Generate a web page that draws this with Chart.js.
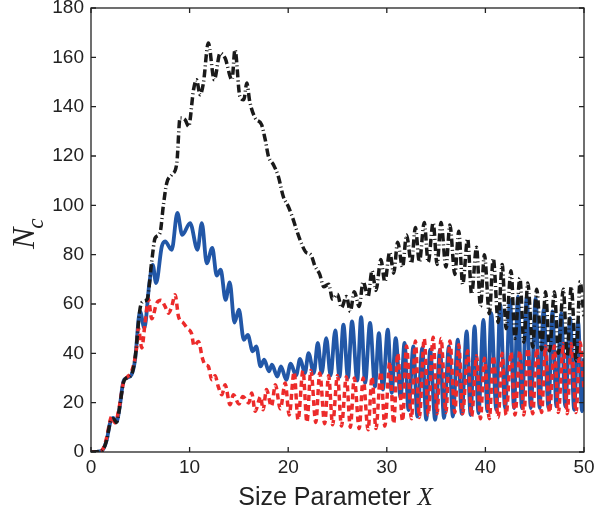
<!DOCTYPE html>
<html lang="en">
<head>
<meta charset="UTF-8">
<title>N_c vs Size Parameter</title>
<script src="https://cdn.jsdelivr.net/npm/chart.js"></script>
<style>
  html, body { margin: 0; padding: 0; background: #fff; }
  #wrap { width: 615px; height: 513px; }
</style>
</head>
<body>
<div id="wrap"><canvas id="ncChart" width="615" height="513"></canvas></div>
<script>
// axis ticks
const xTicks = [0, 10, 20, 30, 40, 50];
const yTicks = [0, 20, 40, 60, 80, 100, 120, 140, 160, 180];

// blue solid curve (peaks / troughs)
const blueX = [0, 0.8, 1.25, 1.6, 1.95, 2.27, 2.6, 2.9, 3.28, 3.6, 4.1, 4.47, 4.97, 5.41, 5.92, 6.26, 6.6, 7.18, 7.51, 8.19, 8.76, 9.25, 10.05, 10.8, 11.24, 11.74, 12.3, 12.75, 13.15, 13.65, 14.07, 14.55, 15.0, 15.5, 15.9, 16.4, 16.75, 17.2, 17.56, 18.05, 18.35, 18.9, 19.26, 19.8, 20.25, 20.8, 21.2, 21.7, 22.06, 22.6, 23.0, 23.4, 23.86, 24.3, 24.77, 25.2, 25.6, 26.06, 26.47, 27.0, 27.4, 27.8, 28.3, 28.8, 29.2, 29.6, 30.1, 30.5, 30.9, 31.4, 31.8, 32.2, 32.7, 33.1, 33.6, 34.0, 34.4, 34.9, 35.4, 35.8, 36.3, 36.7, 37.2, 37.6, 38.1, 38.5, 38.9, 39.3, 39.8, 40.2, 40.6, 41.1, 41.5, 42.0, 42.5, 42.9, 43.3, 43.7, 44.2, 44.6, 45.1, 45.5, 45.9, 46.4, 46.8, 47.2, 47.7, 48.1, 48.6, 49.0, 49.4, 49.8, 50];
const blueY = [0, 0.2, 1.2, 5, 12, 13.8, 12.4, 18, 28.6, 30, 31.3, 37.4, 57, 50.3, 68.5, 75.9, 68.5, 83.3, 85.4, 82, 96.9, 88, 92.8, 82, 92.8, 76.5, 82.7, 71.5, 73.9, 61.7, 68.8, 52.5, 57.7, 45.5, 47.5, 40.8, 42.8, 34.7, 37.4, 32.7, 35.4, 30.6, 34.7, 29.3, 35.8, 31, 37.7, 32, 40.1, 32, 44.2, 32, 46.2, 31, 49.3, 30.5, 51.6, 30, 52.9, 29, 54.7, 28, 52.3, 26.5, 48.2, 25.3, 49.6, 24, 46.2, 22, 44.2, 17, 42.8, 14.4, 42.2, 13.1, 41.5, 13.1, 41.5, 13.8, 42.8, 14.4, 45.5, 15.5, 48.9, 15, 50.9, 15.8, 53.6, 16.5, 56.3, 17.1, 59.7, 17.8, 61.7, 17.8, 63.1, 17.8, 63.1, 17.8, 62.4, 17.8, 57.7, 17.8, 57, 18.5, 56.3, 18.5, 54.3, 17.1, 52.9, 16.5, 38];

// red dashed curve
const redX = [0, 0.8, 1.25, 1.6, 1.95, 2.1, 2.44, 2.9, 3.28, 3.7, 4.13, 4.64, 4.8, 5.15, 5.48, 5.82, 6.16, 6.67, 7.1, 7.51, 7.85, 8.19, 8.53, 8.87, 9.37, 9.8, 10.2, 10.45, 10.9, 11.3, 11.57, 11.9, 12.25, 12.59, 12.9, 13.27, 13.6, 14.1, 14.45, 15.0, 15.4, 16.0, 16.3, 16.65, 17.2, 17.45, 17.8, 18.3, 18.7, 19.2, 19.7, 20.1, 20.6, 21.0, 21.5, 21.9, 22.3, 22.8, 23.2, 23.7, 24.1, 24.5, 25.0, 25.4, 25.9, 26.3, 26.7, 27.2, 27.6, 28.1, 28.5, 28.9, 29.4, 29.8, 30.3, 30.7, 31.1, 31.6, 32.0, 32.5, 32.9, 33.3, 33.8, 34.2, 34.7, 35.1, 35.5, 36.0, 36.4, 36.9, 37.3, 37.7, 38.2, 38.6, 39.1, 39.5, 39.9, 40.4, 40.8, 41.3, 41.7, 42.1, 42.6, 43.0, 43.5, 43.9, 44.3, 44.8, 45.2, 45.7, 46.1, 46.5, 47.0, 47.4, 47.9, 48.3, 48.7, 49.2, 49.6, 50.0];
const redY = [0, 0.2, 1.5, 6, 13, 14.4, 11.8, 19, 28, 30.5, 32.7, 42.8, 50.3, 42.2, 52.3, 62, 54, 60.4, 61.5, 59, 56.3, 59, 63.8, 55, 52.3, 50, 48, 43, 44.8, 38, 35.4, 34.7, 29.3, 30.9, 26.6, 23.2, 27.3, 19.2, 23.2, 19.5, 22.5, 19.9, 23.9, 16.5, 22.5, 17.1, 25.3, 18.5, 27.3, 17.5, 28, 15, 32.5, 13, 33, 12, 33, 12, 32, 11.5, 31, 11, 31, 10.5, 30.5, 10, 30, 9.5, 30, 9, 30.5, 9.5, 32.5, 10.5, 36.5, 11.5, 40, 12.5, 43, 13.5, 45, 14, 46, 15, 46.5, 15.5, 46, 16, 45, 16, 43.5, 15.5, 41, 14.5, 39, 13.5, 38, 13.5, 39, 14, 40, 15, 40.5, 15, 41, 15, 42, 15.5, 42, 16, 43, 16, 43, 16, 44, 15.5, 44, 16, 44.5, 25];

// black dash-dot curve
const blackX = [0, 0.8, 1.25, 1.6, 1.95, 2.27, 2.6, 2.9, 3.28, 3.6, 4.1, 4.47, 4.97, 5.3, 5.7, 6.16, 6.5, 7.0, 7.34, 7.68, 8.19, 8.7, 9.03, 9.54, 9.9, 10.4, 10.7, 11.07, 11.4, 11.9, 12.5, 13.1, 13.6, 14.3, 14.6, 15.1, 15.5, 15.8, 16.1, 16.65, 17.3, 17.67, 18.0, 18.5, 19.0, 19.5, 20.0, 20.4, 20.9, 21.4, 21.8, 22.3, 22.7, 23.2, 23.6, 24.1, 24.5, 25.0, 25.4, 25.9, 26.3, 26.7, 27.2, 27.6, 28.1, 28.5, 28.9, 29.4, 29.8, 30.3, 30.7, 31.1, 31.6, 32.0, 32.5, 32.9, 33.3, 33.8, 34.2, 34.7, 35.1, 35.5, 36.0, 36.4, 36.9, 37.3, 37.7, 38.2, 38.6, 39.1, 39.5, 39.9, 40.4, 40.8, 41.3, 41.7, 42.1, 42.6, 43.0, 43.5, 43.9, 44.3, 44.8, 45.2, 45.7, 46.1, 46.5, 47.0, 47.4, 47.9, 48.3, 48.7, 49.2, 49.6, 50.0];
const blackY = [0, 0.2, 1.2, 5, 12, 13.5, 12, 18, 28, 30, 31.3, 38, 58, 61, 62, 77.3, 86.7, 88.8, 100, 109, 112.4, 117, 135.4, 134.7, 132, 146.9, 150.9, 144.8, 149.6, 165.8, 150.9, 161.7, 159.7, 150.9, 163.1, 144.1, 142.8, 149.6, 142.1, 135.4, 132.7, 126.6, 119.8, 116.5, 111.7, 103.6, 99.6, 95.5, 89.4, 84, 81, 80, 75.5, 72, 67, 68, 62, 64, 58.5, 63, 57, 65, 59, 69, 63, 73.5, 65.5, 78, 69, 81, 72.5, 85, 75, 88, 76.5, 91, 77, 93, 77, 93, 76, 93, 75, 92, 72, 89.5, 68, 86.5, 64, 83, 59, 80, 56, 78.5, 52.5, 76, 50, 73.5, 46, 70.5, 44.5, 68.5, 42.5, 66, 41.5, 65, 41, 65, 40, 66, 39, 67, 37, 69, 55];

const toPoints = (xs, ys) => xs.map((x, i) => ({ x: x, y: ys[i] }));

const tickFont = { family: "'Liberation Sans', Arial, sans-serif", size: 19 };

// box, inward ticks and axis titles, matlab style
const frame = {
    id: 'frame',
    afterDraw(chart) {
        const { ctx, chartArea: a, scales } = chart;
        ctx.save();
        ctx.strokeStyle = '#222';
        ctx.lineWidth = 1.3;
        ctx.strokeRect(a.left, a.top, a.right - a.left, a.bottom - a.top);
        const len = 5;
        ctx.beginPath();
        xTicks.forEach(v => {
            const px = scales.x.getPixelForValue(v);
            ctx.moveTo(px, a.bottom); ctx.lineTo(px, a.bottom - len);
            ctx.moveTo(px, a.top); ctx.lineTo(px, a.top + len);
        });
        yTicks.forEach(v => {
            const py = scales.y.getPixelForValue(v);
            ctx.moveTo(a.left, py); ctx.lineTo(a.left + len, py);
            ctx.moveTo(a.right, py); ctx.lineTo(a.right - len, py);
        });
        ctx.stroke();

        // y title: N_c
        ctx.fillStyle = '#222';
        ctx.translate(34, 249);
        ctx.rotate(-Math.PI / 2);
        ctx.textBaseline = 'alphabetic';
        ctx.textAlign = 'left';
        ctx.font = "italic 32px 'Liberation Serif', 'DejaVu Serif', serif";
        ctx.fillText('N', 0, 0);
        const wN = ctx.measureText('N').width;
        ctx.font = "italic 23px 'Liberation Serif', 'DejaVu Serif', serif";
        ctx.fillText('c', wN - 1, 9);
        ctx.restore();

        // x title: Size Parameter X
        ctx.save();
        ctx.fillStyle = '#222';
        ctx.textBaseline = 'alphabetic';
        ctx.textAlign = 'left';
        const sansF = "25px 'Liberation Sans', Arial, sans-serif";
        const serifF = "italic 25px 'Liberation Serif', 'DejaVu Serif', serif";
        ctx.font = sansF;
        const w1 = ctx.measureText('Size Parameter ').width;
        ctx.font = serifF;
        const w2 = ctx.measureText('X').width;
        const cx = (a.left + a.right) / 2;
        const x0 = cx - (w1 + w2) / 2 - 2;
        ctx.font = sansF;
        ctx.fillText('Size Parameter ', x0, 505);
        ctx.font = serifF;
        ctx.fillText('X', x0 + w1, 505);
        ctx.restore();
    }
};

new Chart(document.getElementById('ncChart').getContext('2d'), {
    type: 'line',
    data: {
        datasets: [
            {
                label: 'black',
                data: toPoints(blackX, blackY),
                borderColor: '#1a1a1a',
                borderWidth: 3.5,
                borderDash: [8, 3, 1, 3],
                order: 1
            },
            {
                label: 'red',
                data: toPoints(redX, redY),
                borderColor: '#ec2a2a',
                borderWidth: 3.5,
                borderDash: [6, 4],
                order: 2
            },
            {
                label: 'blue',
                data: toPoints(blueX, blueY),
                borderColor: '#2257a7',
                borderWidth: 3.8,
                order: 3
            }
        ]
    },
    options: {
        responsive: false,
        animation: false,
        devicePixelRatio: 1,
        parsing: false,
        elements: {
            point: { radius: 0 },
            line: { cubicInterpolationMode: 'monotone', borderCapStyle: 'butt', fill: false }
        },
        layout: { padding: { left: 0, right: 31, top: 8, bottom: 0 } },
        plugins: { legend: { display: false }, tooltip: { enabled: false } },
        scales: {
            x: {
                type: 'linear',
                min: xTicks[0],
                max: xTicks[xTicks.length - 1],
                ticks: { stepSize: 10, font: tickFont, color: '#222', padding: 4, maxRotation: 0, autoSkip: false },
                grid: { display: false, drawTicks: false },
                border: { display: false },
                afterFit: s => { s.height = 61; s.paddingLeft = 0; s.paddingRight = 0; }
            },
            y: {
                type: 'linear',
                min: yTicks[0],
                max: yTicks[yTicks.length - 1],
                ticks: { stepSize: 20, font: tickFont, color: '#222', padding: 7, autoSkip: false },
                grid: { display: false, drawTicks: false },
                border: { display: false },
                afterFit: s => { s.width = 91; s.paddingTop = 0; s.paddingBottom = 0; }
            }
        }
    },
    plugins: [frame]
});
</script>
</body>
</html>
